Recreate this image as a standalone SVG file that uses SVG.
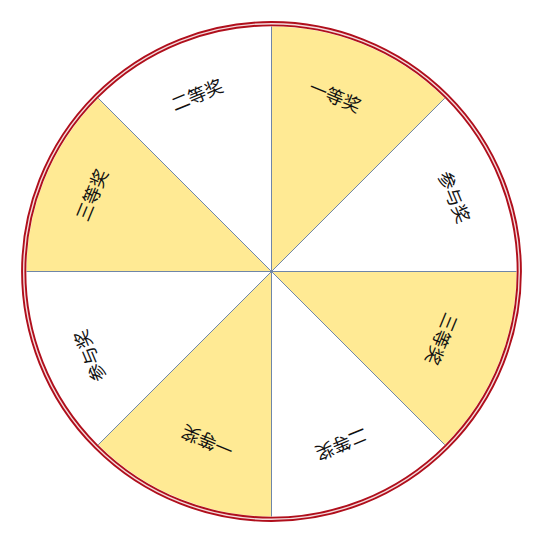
<svg xmlns="http://www.w3.org/2000/svg" width="543" height="543" viewBox="0 0 543 543">
<style>
.y{fill:#FFEA94}
.w{fill:#FFFFFF}
.div{stroke:#6F86A8;stroke-width:1;fill:none}
.lbl{font-family:"Noto Sans CJK SC","Noto Sans",sans-serif;font-size:18px;fill:#111;text-anchor:middle;dominant-baseline:central}
</style>
<rect width="543" height="543" fill="#fff"/>
<g transform="translate(271.5,271.5)">
<g id="s1"><path class="y" d="M0,0 L0,-245 A245,245 0 0 1 173.24,-173.24 Z"/><text class="lbl" transform="translate(-8,-2.5) rotate(22.5) translate(0,-188)">一等奖</text></g>
<g id="s2"><path class="w" d="M0,0 L173.24,-173.24 A245,245 0 0 1 245,0 Z"/><text class="lbl" transform="translate(10,-3) rotate(67.5) translate(0,-188)">参与奖</text></g>
<g id="s3"><path class="y" d="M0,0 L245,0 A245,245 0 0 1 173.24,173.24 Z"/><text class="lbl" transform="translate(-2.5,-4) rotate(112.5) translate(0,-188)">三等奖</text></g>
<g id="s4"><path class="w" d="M0,0 L173.24,173.24 A245,245 0 0 1 0,245 Z"/><text class="lbl" transform="translate(-1.5,0) rotate(157.5) translate(0,-188)">二等奖</text></g>
<g id="s5"><path class="y" d="M0,0 L0,245 A245,245 0 0 1 -173.24,173.24 Z"/><text class="lbl" transform="translate(7.5,-3) rotate(202.5) translate(0,-188)">一等奖</text></g>
<g id="s6"><path class="w" d="M0,0 L-173.24,173.24 A245,245 0 0 1 -245,0 Z"/><text class="lbl" transform="translate(-9,13) rotate(247.5) translate(0,-188)">参与奖</text></g>
<g id="s7"><path class="y" d="M0,0 L-245,0 A245,245 0 0 1 -173.24,-173.24 Z"/><text class="lbl" transform="translate(-7,-5) rotate(292.5) translate(0,-188)">三等奖</text></g>
<g id="s8"><path class="w" d="M0,0 L-173.24,-173.24 A245,245 0 0 1 0,-245 Z"/><text class="lbl" transform="translate(-3,-4) rotate(337.5) translate(0,-188)">二等奖</text></g>
<g id="connectors" class="div">
<line x1="0" y1="0" x2="0" y2="-245"/>
<line x1="0" y1="0" x2="173.24" y2="-173.24"/>
<line x1="0" y1="0" x2="245" y2="0"/>
<line x1="0" y1="0" x2="173.24" y2="173.24"/>
<line x1="0" y1="0" x2="0" y2="245"/>
<line x1="0" y1="0" x2="-173.24" y2="173.24"/>
<line x1="0" y1="0" x2="-245" y2="0"/>
<line x1="0" y1="0" x2="-173.24" y2="-173.24"/>
</g>
<g id="rim">
<circle r="247.8" fill="none" stroke="#B00F1C" stroke-width="5.2"/>
<circle r="247.8" fill="none" stroke="#FFFFFF" stroke-width="1.4" opacity="0.85"/>
</g>
</g>
</svg>
